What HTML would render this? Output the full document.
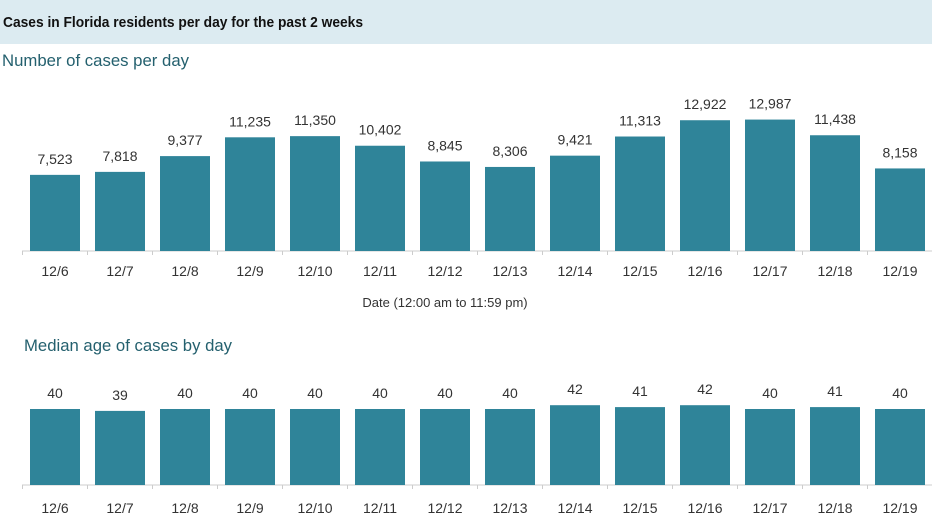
<!DOCTYPE html>
<html><head><meta charset="utf-8"><style>
body{margin:0;width:932px;height:524px;background:#fff;overflow:hidden;font-family:"Liberation Sans",sans-serif}
</style></head><body>
<svg width="932" height="524" viewBox="0 0 932 524">
<rect x="0" y="0" width="932" height="44" fill="#dcebf1"/>
<text x="3" y="27" font-size="15" font-weight="bold" fill="#111" textLength="360" lengthAdjust="spacingAndGlyphs">Cases in Florida residents per day for the past 2 weeks</text>
<text x="2" y="66" font-size="17" fill="#24606e" textLength="187" lengthAdjust="spacingAndGlyphs">Number of cases per day</text>
<text x="24" y="351" font-size="17" fill="#24606e" textLength="208" lengthAdjust="spacingAndGlyphs">Median age of cases by day</text>
<text x="445" y="307" font-size="13" fill="#333" text-anchor="middle">Date (12:00 am to 11:59 pm)</text>
<g id="top"></g><g id="bot"></g>
</svg>
<script>
const categories=["12/6","12/7","12/8","12/9","12/10","12/11","12/12","12/13","12/14","12/15","12/16","12/17","12/18","12/19"];
const cases=[7523,7818,9377,11235,11350,10402,8845,8306,9421,11313,12922,12987,11438,8158];
const ages=[40,39,40,40,40,40,40,40,42,41,42,40,41,40];
const NS="http://www.w3.org/2000/svg";
const xc=i=>55+i*65;
const yTop=v=>251-v*0.01012;
const yBot=v=>485-v*1.9;
function mk(p,tag,attrs,txt){const e=document.createElementNS(NS,tag);for(const k in attrs)e.setAttribute(k,attrs[k]);if(txt!=null)e.textContent=txt;p.appendChild(e);return e;}
function draw(gid,vals,yf,base,labY,fmt,pre){
  const g=document.getElementById(gid);
  const ax=mk(g,"line",{x1:22,x2:932,y1:base,y2:base,stroke:"#ccc","stroke-width":1});
  
  
  vals.forEach((v,i)=>{
    const t=mk(g,"line",{x1:xc(i)-32.5,x2:xc(i)-32.5,y1:base,y2:base+4,stroke:"#ccc"});
    
    
    const y=yf(v);
    const b=mk(g,"rect",{x:xc(i)-25,y:y,width:50,height:base-y,fill:"#2f8499"});
    
    
    const l=mk(g,"text",{x:xc(i),y:y-11,"font-size":14,fill:"#333","text-anchor":"middle"},fmt(v));
    
    
    const c=mk(g,"text",{x:xc(i),y:labY,"font-size":14,fill:"#333","text-anchor":"middle"},categories[i]);
    
    
  });
}
draw("top",cases,yTop,251,276,v=>v.toLocaleString("en-US"),"cases");
draw("bot",ages,yBot,485,513,v=>String(v),"age");
</script>
</body></html>
